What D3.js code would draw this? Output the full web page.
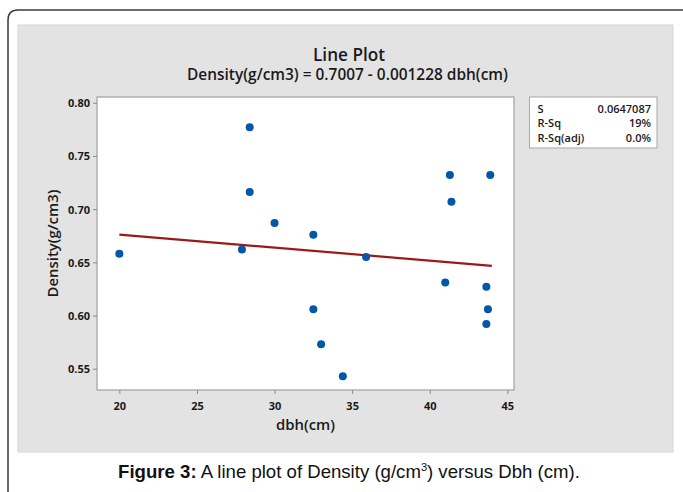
<!DOCTYPE html>
<html>
<head>
<meta charset="utf-8">
<script src="https://cdn.jsdelivr.net/npm/d3@7"></script>
<style>
  html, body { margin: 0; padding: 0; background: #ffffff; }
  svg { display: block; }
</style>
</head>
<body>
<svg id="chart" width="683" height="492"></svg>
<script>
// ---- data ----
const dbh     = [20.0, 27.9, 28.4, 28.4, 30.0, 32.5, 32.5, 33.0, 34.4, 35.9, 41.0, 41.3, 41.4, 43.65, 43.75, 43.65, 43.9];
const density = [0.658, 0.662, 0.777, 0.716, 0.687, 0.676, 0.606, 0.573, 0.543, 0.655, 0.631, 0.732, 0.707, 0.627, 0.606, 0.592, 0.732];
const fitX = [20, 44];
const fitY = [0.6761, 0.6467];
const xTicks = [20, 25, 30, 35, 40, 45];
const yTicks = [0.55, 0.60, 0.65, 0.70, 0.75, 0.80];
const statLabels = ["S", "R-Sq", "R-Sq(adj)"];
const statValues = ["0.0647087", "19%", "0.0%"];
const titleText = "Line Plot";
const subtitleText = "Density(g/cm3) = 0.7007 - 0.001228 dbh(cm)";
const xTitle = "dbh(cm)";
const yTitle = "Density(g/cm3)";

// ---- layout ----
const W = 683, H = 492;
const plot = { left: 97, right: 514, top: 97, bottom: 390 };
const font = "'Open Sans', 'Noto Sans', sans-serif";

const svg = d3.select("#chart");

// outer frame
svg.append("path")
  .attr("d", `M8,${H+5} L8,20 Q8,10 18,10 L${W+5},10`)
  .attr("fill", "none").attr("stroke", "#3a3a3a").attr("stroke-width", 1.5);

// gray panel
svg.append("rect").attr("x", 18).attr("y", 25).attr("width", 655).attr("height", 427)
  .attr("fill", "#e3e3e3").attr("stroke", "#d6d6d6").attr("stroke-width", 1);

// plot area
svg.append("rect").attr("x", plot.left).attr("y", plot.top)
  .attr("width", plot.right - plot.left).attr("height", plot.bottom - plot.top)
  .attr("fill", "#ffffff").attr("stroke", "#b0b0b0").attr("stroke-width", 1.5);

const x = d3.scaleLinear().domain([18.56, 45.43]).range([plot.left, plot.right]);
const y = d3.scaleLinear().domain([0.53, 0.8054]).range([plot.bottom, plot.top]);

function fitWidth(sel, target) {
  const n = sel.node();
  const w = n.getComputedTextLength();
  const fs = parseFloat(sel.attr("font-size"));
  const nf = w > 0 ? fs * target / w : fs;
  sel.attr("font-size", nf.toFixed(2));
  return nf;
}

// axes
const xAxis = svg.append("g").attr("transform", `translate(0,${plot.bottom})`)
  .call(d3.axisBottom(x).tickValues(xTicks).tickSize(4).tickPadding(6).tickFormat(d3.format("d")));
const yAxis = svg.append("g").attr("transform", `translate(${plot.left},0)`)
  .call(d3.axisLeft(y).tickValues(yTicks).tickSize(4).tickPadding(3).tickFormat(d3.format(".2f")));
[xAxis, yAxis].forEach(g => {
  g.select(".domain").remove();
  g.selectAll(".tick line").attr("stroke", "#8a8a8a").attr("stroke-width", 1);
  g.selectAll(".tick text").attr("font-family", font).attr("font-weight", 700)
    .attr("font-size", 11).attr("fill", "#1a1a1a");
});
xAxis.selectAll(".tick text").attr("dy", null).attr("y", 19.5);
yAxis.selectAll(".tick text").attr("dy", "0.36em");

// fit line
const fitData = fitX.map((v, i) => [v, fitY[i]]);
svg.append("path").datum(fitData)
  .attr("d", d3.line().x(d => x(d[0])).y(d => y(d[1])))
  .attr("fill", "none").attr("stroke", "#9a1a1a").attr("stroke-width", 2.2);

// points
svg.append("g").selectAll("circle").data(dbh.map((v, i) => [v, density[i]]))
  .join("circle")
  .attr("cx", d => x(d[0])).attr("cy", d => y(d[1])).attr("r", 4)
  .attr("fill", "#0457a8");

// titles
const t1 = svg.append("text").attr("x", 349).attr("y", 60.5).attr("text-anchor", "middle")
  .attr("font-family", font).attr("font-weight", 600).attr("font-size", 17).attr("fill", "#1a1a1a")
  .text(titleText);
fitWidth(t1, 72);
const t2 = svg.append("text").attr("x", 347.5).attr("y", 80).attr("text-anchor", "middle")
  .attr("font-family", font).attr("font-weight", 600).attr("font-size", 13).attr("fill", "#1a1a1a")
  .text(subtitleText);
fitWidth(t2, 321);

const xt = svg.append("text").attr("x", (plot.left + plot.right) / 2).attr("y", 429.5).attr("text-anchor", "middle")
  .attr("font-family", font).attr("font-weight", 600).attr("font-size", 13).attr("fill", "#1a1a1a")
  .text(xTitle);
fitWidth(xt, 59);
const yt = svg.append("text").attr("transform", `translate(57.5,${(plot.top + plot.bottom) / 2}) rotate(-90)`)
  .attr("text-anchor", "middle")
  .attr("font-family", font).attr("font-weight", 600).attr("font-size", 13).attr("fill", "#1a1a1a")
  .text(yTitle);
fitWidth(yt, 108);

// stats box
svg.append("rect").attr("x", 529.5).attr("y", 97).attr("width", 127.5).attr("height", 51)
  .attr("fill", "#ffffff").attr("stroke", "#a8a8a8").attr("stroke-width", 1);
const rowY = [112.5, 127, 142];
const probe = svg.append("text").attr("font-family", font).attr("font-weight", 600)
  .attr("font-size", 10).text(statValues[0]);
const statFs = fitWidth(probe, 53.5);
probe.remove();
statLabels.forEach((lab, i) => {
  svg.append("text").attr("x", 537.5).attr("y", rowY[i])
    .attr("font-family", font).attr("font-weight", 600).attr("font-size", statFs).attr("fill", "#1a1a1a")
    .text(lab);
  svg.append("text").attr("x", 651).attr("y", rowY[i]).attr("text-anchor", "end")
    .attr("font-family", font).attr("font-weight", 600).attr("font-size", statFs).attr("fill", "#1a1a1a")
    .text(statValues[i]);
});

// caption
const cap = svg.append("text").attr("x", 349).attr("y", 478).attr("text-anchor", "middle")
  .attr("font-family", "'Liberation Sans', Arial, sans-serif").attr("font-size", 18.6).attr("fill", "#111");
cap.append("tspan").attr("font-weight", 700).text("Figure 3:");
cap.append("tspan").text(" A line plot of Density (g/cm");
cap.append("tspan").attr("font-size", 11).attr("dy", -7).text("3");
cap.append("tspan").attr("dy", 7).text(") versus Dbh (cm).");
</script>
</body>
</html>
